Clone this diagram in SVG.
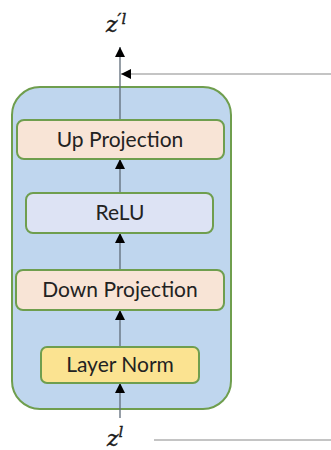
<svg xmlns="http://www.w3.org/2000/svg" width="331" height="450" viewBox="0 0 331 450">
  <style>
    .blk { stroke: #6f9e4e; stroke-width: 2; }
    .proj { fill: #f8e4d6; }
    .act { fill: #dde3f4; }
    .norm { fill: #fbe391; }
    .lbl { font-family: Lato, "Open Sans", sans-serif; font-size: 21px; fill: #222; text-anchor: middle; }
    .math { font-family: "DejaVu Serif", "Liberation Serif", serif; font-style: italic; fill: #1a1a1a; stroke: #1a1a1a; stroke-width: 0.4; }
    .wire { stroke: #5f6b78; stroke-width: 1.3; fill: none; }
    .skip { stroke: #8a8a8a; stroke-width: 1.2; fill: none; }
  </style>
  <defs>
    <marker id="head" viewBox="0 0 10 10" refX="10" refY="5" markerWidth="10" markerHeight="10" markerUnits="userSpaceOnUse" orient="auto">
      <path d="M0,0 L10,5 L0,10 z" fill="#000"/>
    </marker>
  </defs>

  <rect id="adapter" x="12" y="87" width="219" height="322" rx="28" fill="#bfd6ee" stroke="#6f9e4e" stroke-width="2"/>

  <g id="connectors">
    <line class="wire" x1="120" y1="418" x2="120" y2="383" marker-end="url(#head)"/>
    <line class="wire" x1="120" y1="347" x2="120" y2="310" marker-end="url(#head)"/>
    <line class="wire" x1="120" y1="270" x2="120" y2="233" marker-end="url(#head)"/>
    <line class="wire" x1="120" y1="193" x2="120" y2="159" marker-end="url(#head)"/>
    <line class="wire" x1="120" y1="120" x2="120" y2="47" marker-end="url(#head)"/>
    <line class="skip" x1="331" y1="74" x2="121" y2="74" marker-end="url(#head)"/>
    <line class="skip" x1="154" y1="440" x2="331" y2="440"/>
  </g>

  <g id="layer-norm">
    <rect class="blk norm" x="41" y="347" width="158" height="36" rx="6"/>
    <text class="lbl" x="120" y="372">Layer Norm</text>
  </g>
  <g id="down-projection">
    <rect class="blk proj" x="16" y="270" width="208" height="40" rx="7"/>
    <text class="lbl" x="120" y="297">Down Projection</text>
  </g>
  <g id="relu">
    <rect class="blk act" x="26" y="193" width="187" height="40" rx="7"/>
    <text class="lbl" x="120" y="220">ReLU</text>
  </g>
  <g id="up-projection">
    <rect class="blk proj" x="17" y="120" width="207" height="39" rx="7"/>
    <text class="lbl" x="120" y="147">Up Projection</text>
  </g>

  <g id="output-label">
    <text class="math" x="106" y="32" font-size="22">z<tspan font-size="17" dy="-7">′</tspan><tspan font-size="15" dy="-1">l</tspan></text>
  </g>
  <g id="input-label">
    <text class="math" x="107" y="446" font-size="22">z<tspan font-size="15" dy="-9">l</tspan></text>
  </g>
</svg>
